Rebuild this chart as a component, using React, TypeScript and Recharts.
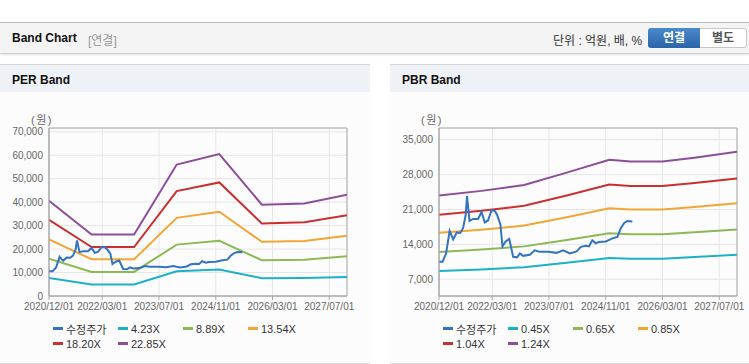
import React from 'react';
import { LineChart, Line, XAxis, YAxis, CartesianGrid, ReferenceArea } from 'recharts';

const FONT = '"Liberation Sans", Arial, "Noto Sans CJK KR", sans-serif';

// x axis: months since 2020/12
const xTickMonths = [0, 15, 31, 47, 63, 79];
const xTickLabels = ['2020/12/01', '2022/03/01', '2023/07/01', '2024/11/01', '2026/03/01', '2027/07/01'];

// 수정주가 (adjusted price)
const priceMonths = [
  0, 1, 2, 3, 4, 5, 6, 6.8, 7.5, 7.9, 8.6, 9.6, 11, 12, 12.9, 13.8, 14.8, 15.7, 16.4, 17.3,
  17.9, 18.8, 19.8, 20.9, 22, 22.8, 23.7, 25.6, 27, 28.4, 30.8, 33.1, 35, 36.9, 38.8, 40,
  41.4, 42.3, 43.2, 44.2, 45.1, 47, 48.9, 50.3, 51.2, 52.2, 53.1, 54.5,
];
const priceValues = [
  10500, 10500, 12200, 16700, 15000, 16400, 16300, 17300, 19800, 23700, 18700, 19100, 19100, 20500, 18400, 18800, 20800, 20800, 19900, 18000,
  13600, 14600, 15100, 11500, 11400, 12200, 11700, 11900, 12800, 12500, 12500, 12300, 12800, 12200, 12600, 13500,
  13700, 13600, 14800, 14200, 14500, 14600, 15200, 15500, 17200, 18300, 18700, 18600,
];

// PER band
const perMonths = [0, 12, 24, 36, 48, 60, 72, 84];
const per423 = [7650, 4950, 4950, 10500, 11300, 7600, 7650, 8050];
const per889 = [15900, 10250, 10250, 21900, 23500, 15250, 15400, 16900];
const per1354 = [24100, 15650, 15650, 33300, 35900, 23100, 23400, 25700];
const per1820 = [32500, 20850, 20850, 44700, 48400, 30900, 31400, 34400];
const per2285 = [40600, 26200, 26200, 56000, 60500, 38900, 39400, 43200];
const perTicks = [0, 10000, 20000, 30000, 40000, 50000, 60000, 70000];

// PBR band
const pbrMonths = [0, 12, 24, 36, 48, 54, 63, 72, 84];
const pbr045 = [8640, 8980, 9400, 10300, 11250, 11100, 11100, 11450, 11900];
const pbr065 = [12480, 12970, 13600, 14880, 16250, 16050, 16050, 16450, 17000];
const pbr085 = [16320, 16960, 17770, 19460, 21250, 21000, 21000, 21500, 22250];
const pbr104 = [19970, 20750, 21740, 23820, 26000, 25700, 25700, 26300, 27250];
const pbr124 = [23810, 24740, 25920, 28400, 31000, 30630, 30630, 31400, 32600];
const pbrTicks = [7000, 14000, 21000, 28000, 35000];

const COLORS = {
  price: '#3473c4',
  c1: '#1cb1c6',
  c2: '#8db856',
  c3: '#f2a633',
  c4: '#cc2f2f',
  c5: '#8d4e99',
};

type Band = { name: string; color: string; values: number[] };

const toRows = (months: number[], values: number[]) => months.map((m, i) => ({ m, v: values[i] }));
const priceRows = toRows(priceMonths, priceValues);
const fmt = (v: number) => v.toLocaleString('en-US');

interface BandPanelProps {
  title: string;
  left: number;
  months: number[];
  bands: Band[];
  yDomain: [number, number];
  yTicks: number[];
}

const BandPanel: React.FC<BandPanelProps> = ({ title, left, months, bands, yDomain, yTicks }) => {
  const legend = [{ name: '수정주가', color: COLORS.price }, ...bands];
  return (
    <div style={{ position: 'absolute', left, top: 64, width: 370, height: 299, background: '#fcfcfc', borderBottom: '1px solid #dcdcdc' }}>
      <div
        style={{
          height: 27,
          borderTop: '1px solid #d4d4d4',
          background: '#eef2f7',
          fontWeight: 'bold',
          fontSize: 12,
          color: '#111',
          lineHeight: '30px',
          paddingLeft: 12,
        }}
      >
        {title}
      </div>
      <div style={{ position: 'absolute', left: 31, top: 47, fontSize: 11, color: '#666', letterSpacing: 1.5 }}>(원)</div>

      <LineChart
        width={370}
        height={270}
        margin={{ top: 36, right: 23, bottom: 46, left: 0 }}
        style={{ position: 'absolute', left: 0, top: 28 }}
      >
        <CartesianGrid stroke="#e6e6e6" />
        <XAxis
          type="number"
          dataKey="m"
          domain={[0, 84]}
          ticks={xTickMonths}
          interval={0}
          allowDataOverflow
          tickFormatter={(v) => xTickLabels[xTickMonths.indexOf(v)] ?? ''}
          axisLine={{ stroke: '#aaaaaa' }}
          tickLine={{ stroke: '#aaaaaa' }}
          tickSize={4}
          tickMargin={3}
          height={20}
          tick={{ fontSize: 10, fill: '#666', fontFamily: FONT }}
        />
        <YAxis
          type="number"
          domain={yDomain}
          ticks={yTicks}
          interval={0}
          allowDataOverflow
          tickFormatter={fmt}
          width={49}
          axisLine={{ stroke: '#aaaaaa' }}
          tickLine={false}
          tickSize={4}
          tickMargin={2}
          tick={{ fontSize: 10, fill: '#666', fontFamily: FONT }}
        />
        <ReferenceArea x1={0} x2={84} y1={yDomain[0]} y2={yDomain[1]} fill="none" stroke="#aaaaaa" />
        {bands.map((b) => (
          <Line
            key={b.name}
            data={toRows(months, b.values)}
            dataKey="v"
            type="linear"
            stroke={b.color}
            strokeWidth={2}
            dot={false}
            isAnimationActive={false}
          />
        ))}
        <Line
          data={priceRows}
          dataKey="v"
          type="linear"
          stroke={COLORS.price}
          strokeWidth={2}
          dot={false}
          isAnimationActive={false}
        />
      </LineChart>

      <div style={{ position: 'absolute', left: 53, top: 257, width: 270 }}>
        {legend.map((item, i) => (
          <div
            key={item.name}
            style={{
              position: 'absolute',
              left: (i % 4) * 65,
              top: Math.floor(i / 4) * 15,
              display: 'flex',
              alignItems: 'center',
              fontSize: 11,
              color: '#333',
              whiteSpace: 'nowrap',
              height: 15,
            }}
          >
            <span style={{ display: 'inline-block', width: 10, height: 3, background: item.color, marginRight: 3 }} />
            {item.name}
          </div>
        ))}
      </div>
    </div>
  );
};

export default function App() {
  const perBands: Band[] = [
    { name: '4.23X', color: COLORS.c1, values: per423 },
    { name: '8.89X', color: COLORS.c2, values: per889 },
    { name: '13.54X', color: COLORS.c3, values: per1354 },
    { name: '18.20X', color: COLORS.c4, values: per1820 },
    { name: '22.85X', color: COLORS.c5, values: per2285 },
  ];
  const pbrBands: Band[] = [
    { name: '0.45X', color: COLORS.c1, values: pbr045 },
    { name: '0.65X', color: COLORS.c2, values: pbr065 },
    { name: '0.85X', color: COLORS.c3, values: pbr085 },
    { name: '1.04X', color: COLORS.c4, values: pbr104 },
    { name: '1.24X', color: COLORS.c5, values: pbr124 },
  ];

  return (
    <div style={{ position: 'relative', width: 749, height: 364, overflow: 'hidden', background: '#fff', fontFamily: FONT }}>
      <style>{'body{margin:0}'}</style>

      {/* top header bar */}
      <div
        style={{
          position: 'absolute',
          left: 0,
          top: 22,
          width: 749,
          height: 30,
          borderTop: '1px solid #bdbdbd',
          borderBottom: '1px solid #cfcfcf',
          background: '#f4f4f4',
          boxShadow: '0 1px 2px rgba(0,0,0,0.12)',
        }}
      >
        <span style={{ position: 'absolute', left: 12, top: 8, fontSize: 12, fontWeight: 'bold', color: '#111' }}>Band Chart</span>
        <span style={{ position: 'absolute', left: 88, top: 8, fontSize: 12, color: '#999' }}>[연결]</span>
        <span style={{ position: 'absolute', left: 553, top: 8, fontSize: 12, color: '#333' }}>단위 : 억원, 배, %</span>
        <div
          style={{
            position: 'absolute',
            left: 648,
            top: 5,
            width: 52,
            height: 20,
            borderRadius: '3px 0 0 3px',
            background: 'linear-gradient(#4a89cc, #2a64a8)',
            color: '#fff',
            fontSize: 12,
            fontWeight: 'bold',
            textAlign: 'center',
            lineHeight: '20px',
          }}
        >
          연결
        </div>
        <div
          style={{
            position: 'absolute',
            left: 700,
            top: 5,
            width: 46,
            height: 18,
            border: '1px solid #c8c8c8',
            borderLeft: 'none',
            borderRadius: '0 3px 3px 0',
            background: '#fff',
            color: '#555',
            fontSize: 12,
            fontWeight: 'bold',
            textAlign: 'center',
            lineHeight: '18px',
          }}
        >
          별도
        </div>
      </div>

      <BandPanel title="PER Band" left={0} months={perMonths} bands={perBands} yDomain={[0, 71600]} yTicks={perTicks} />
      <BandPanel title="PBR Band" left={390} months={pbrMonths} bands={pbrBands} yDomain={[3640, 37360]} yTicks={pbrTicks} />
    </div>
  );
}
